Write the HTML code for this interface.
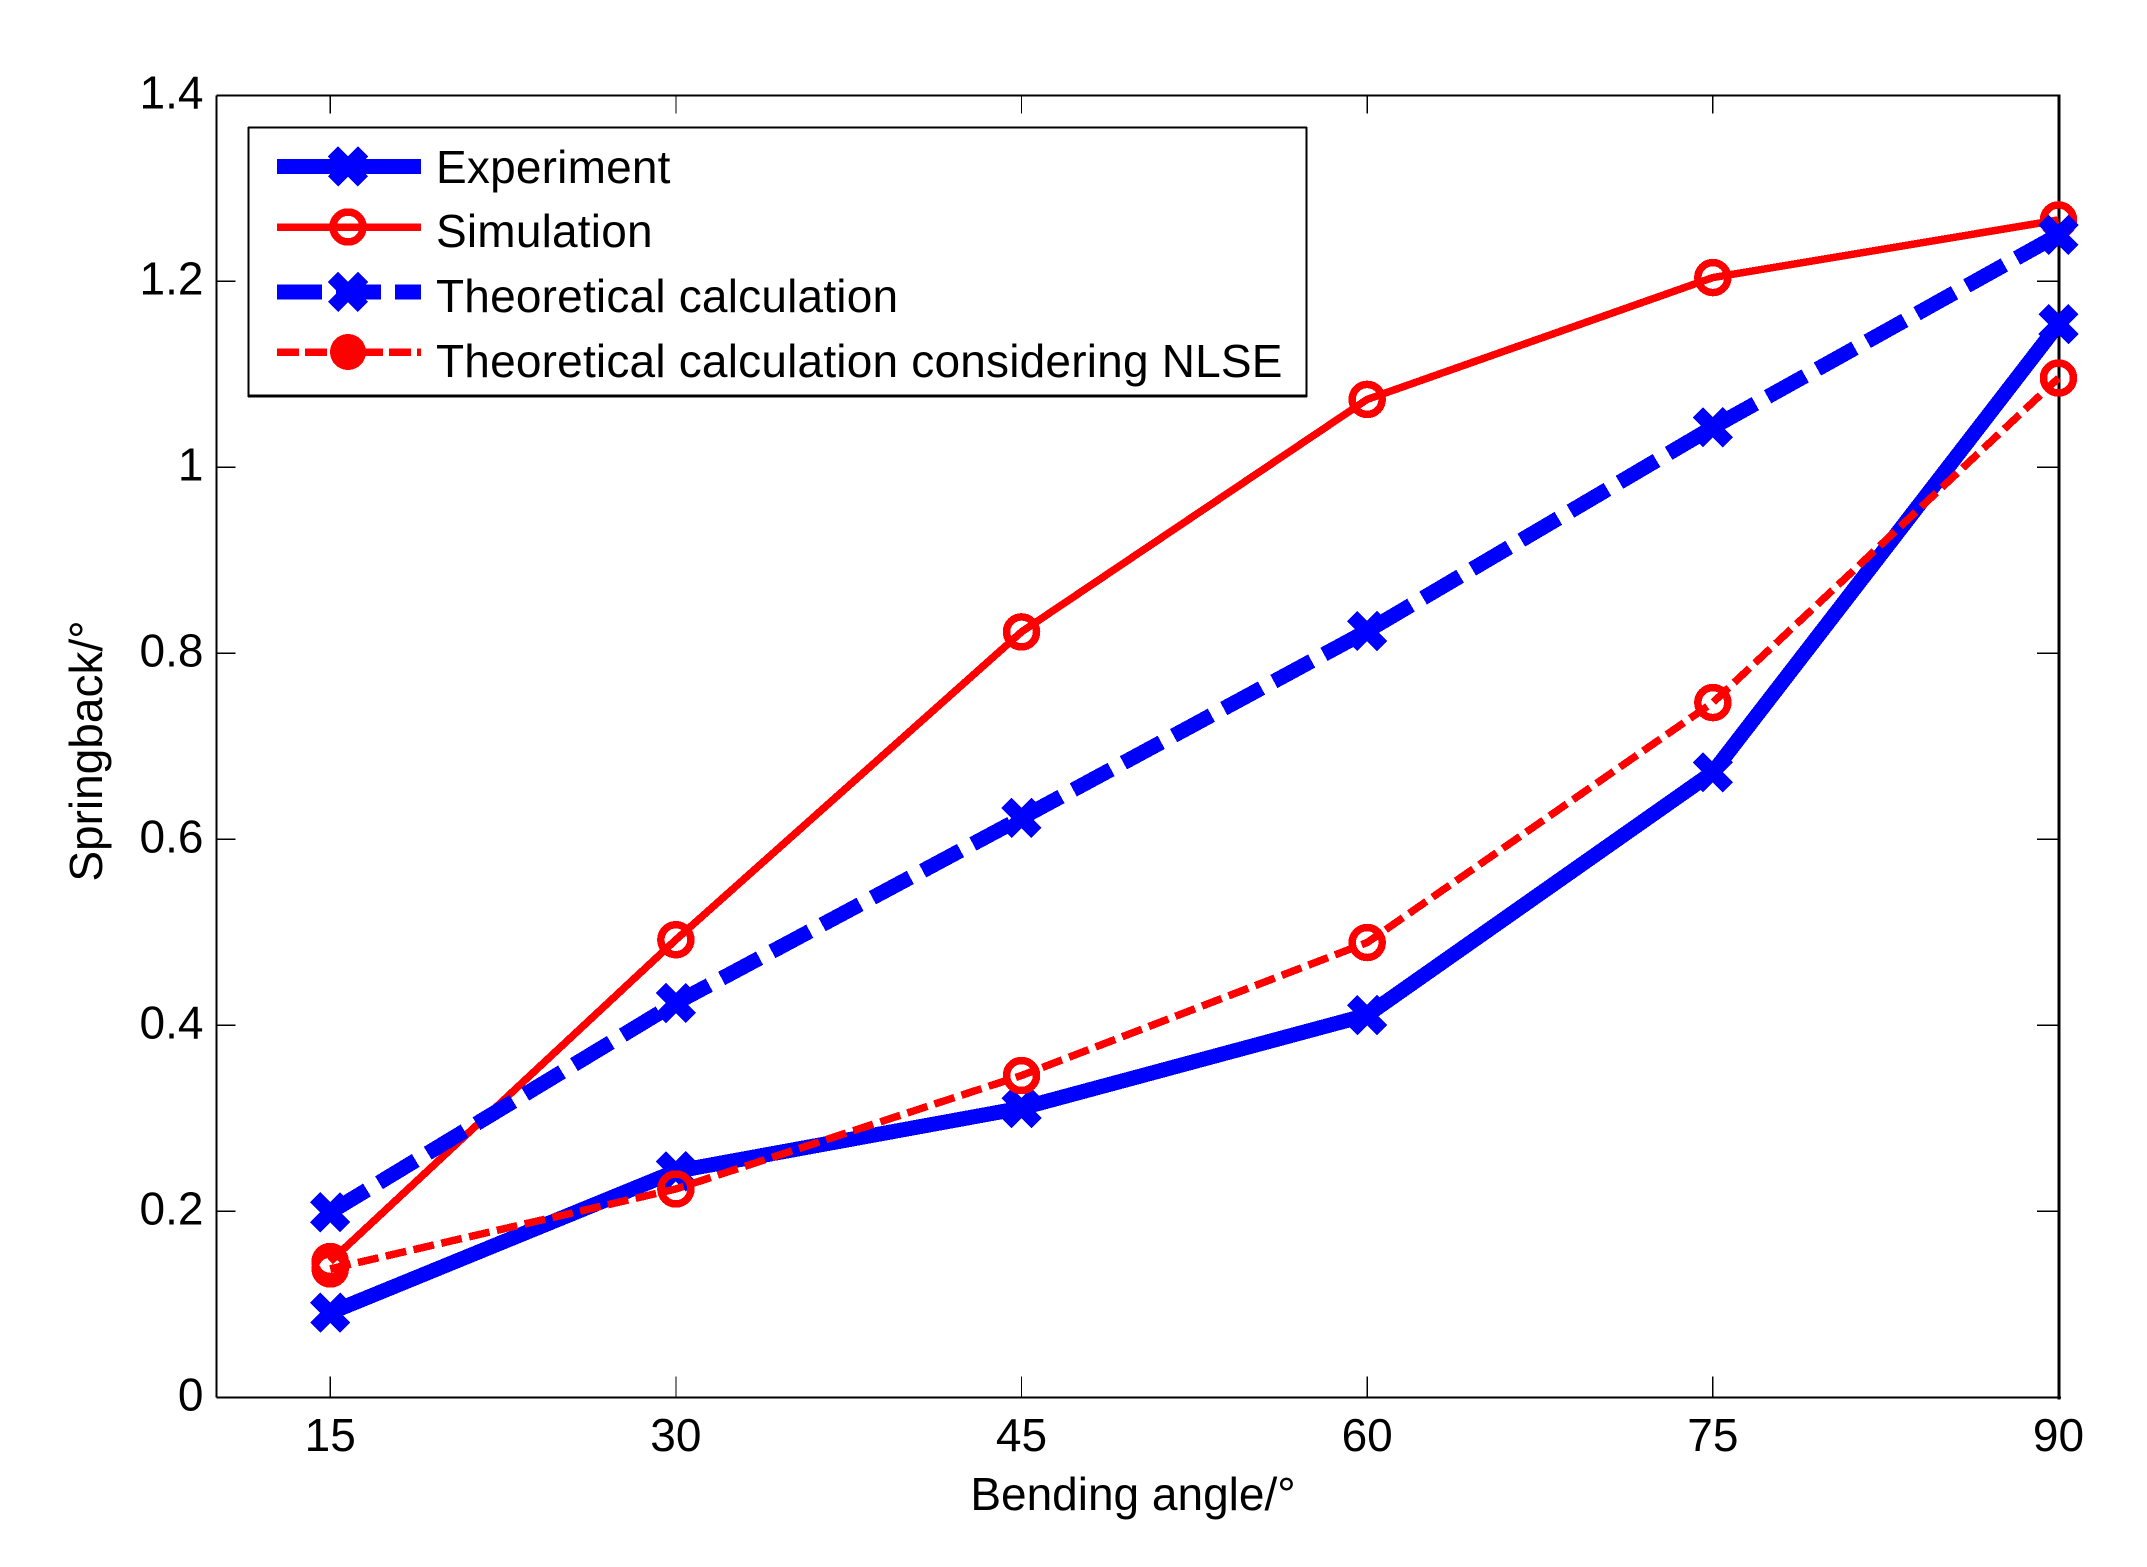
<!DOCTYPE html>
<html lang="en">
<head>
<meta charset="utf-8">
<title>Springback vs bending angle</title>
<style>
html,body{margin:0;padding:0;background:#fff;}
svg{display:block;shape-rendering:crispEdges;}
text{font-family:"Liberation Sans",Arial,sans-serif;font-size:46px;fill:#000;}
.legend-text{letter-spacing:0.2px;}
</style>
</head>
<body>
<svg id="chart" xmlns="http://www.w3.org/2000/svg" width="2147" height="1567" viewBox="0 0 2147 1567"></svg>
<script>
const categories = [15, 30, 45, 60, 75, 90];
const experimentValues = [0.091, 0.243, 0.311, 0.411, 0.672, 1.154];
const simulationValues = [0.146, 0.492, 0.823, 1.073, 1.204, 1.266];
const theoreticalValues = [0.199, 0.424, 0.623, 0.824, 1.043, 1.250];
const nlseValues = [0.138, 0.224, 0.346, 0.489, 0.747, 1.096];
const yTicks = [0, 0.2, 0.4, 0.6, 0.8, 1, 1.2, 1.4];
const xDomain = [15, 90];
const yDomain = [0, 1.4];
const xAxisTitle = "Bending angle/°";
const yAxisTitle = "Springback/°";

const seriesList = [
  {key:"experiment", label:"Experiment", values:experimentValues, color:"#0000ff", width:15, dash:"", marker:"x"},
  {key:"simulation", label:"Simulation", values:simulationValues, color:"#ff0000", width:7.5, dash:"", marker:"o"},
  {key:"theoretical", label:"Theoretical calculation", values:theoreticalValues, color:"#0000ff", width:15, dash:"43 14", marker:"x"},
  {key:"nlse", label:"Theoretical calculation considering NLSE", values:nlseValues, color:"#ff0000", width:7.5, dash:"21 7.5", marker:"o"}
];

const svg = document.getElementById("chart");
const NS = "http://www.w3.org/2000/svg";
const plot = {left:216.5, right:2059, top:95.3, bottom:1397.3, x0:330.2, x1:2058.5};
function xScale(v){ return plot.x0 + (v - xDomain[0]) / (xDomain[1] - xDomain[0]) * (plot.x1 - plot.x0); }
function yScale(v){ return plot.bottom - (v - yDomain[0]) / (yDomain[1] - yDomain[0]) * (plot.bottom - plot.top); }
function make(tag, attrs, parent){
  const n = document.createElementNS(NS, tag);
  for (const k in attrs) n.setAttribute(k, attrs[k]);
  (parent || svg).appendChild(n);
  return n;
}
function drawMarker(parent, s, cx, cy){
  const g = make("g", {}, parent);
  
  
  if (s.marker === "x") {
    make("line", {x1:cx-15, y1:cy-15, x2:cx+15, y2:cy+15, stroke:s.color, "stroke-width":14.5}, g);
    make("line", {x1:cx-15, y1:cy+15, x2:cx+15, y2:cy-15, stroke:s.color, "stroke-width":14.5}, g);
  } else {
    make("circle", {cx:cx, cy:cy, r:15, fill:"none", stroke:s.color, "stroke-width":7.5}, g);
  }
}

// axes box
const axesBox = make("g", {stroke:"#000", fill:"none"});


make("line", {x1:plot.left, y1:plot.top, x2:plot.right, y2:plot.top, "stroke-width":2}, axesBox);
make("line", {x1:plot.left, y1:plot.bottom, x2:plot.right+2, y2:plot.bottom, "stroke-width":2}, axesBox);
make("line", {x1:plot.left, y1:plot.top, x2:plot.left, y2:plot.bottom, "stroke-width":2}, axesBox);
make("line", {x1:plot.right, y1:plot.top-1, x2:plot.right, y2:plot.bottom+2, "stroke-width":3}, axesBox);

// x ticks
categories.forEach(function(c){
  const x = xScale(c);
  const tick = make("g", {stroke:"#000", "stroke-width":1.2});
  
  
  make("line", {x1:x, y1:plot.bottom, x2:x, y2:plot.bottom-21}, tick);
  make("line", {x1:x, y1:plot.top, x2:x, y2:plot.top+18}, tick);
  const label = make("text", {x:x, y:1451, "text-anchor":"middle"});
  
  
  label.textContent = String(c);
});

// y ticks
yTicks.forEach(function(t){
  const y = yScale(t);
  const tick = make("g", {stroke:"#000", "stroke-width":1.2});
  
  
  make("line", {x1:plot.left, y1:y, x2:plot.left+19, y2:y}, tick);
  make("line", {x1:plot.right, y1:y, x2:plot.right-22, y2:y}, tick);
  const label = make("text", {x:203.5, y:y+13, "text-anchor":"end"});
  
  
  label.textContent = String(t);
});

// axis titles
const xTitle = make("text", {x:1133, y:1510, "text-anchor":"middle"});


xTitle.textContent = xAxisTitle;
const yTitle = make("text", {x:0, y:0, "text-anchor":"middle", transform:"translate(102 751) rotate(-90)"});


yTitle.textContent = yAxisTitle;

// series
seriesList.forEach(function(s){
  const group = make("g", {});
  
  
  const pts = s.values.map(function(v, i){ return xScale(categories[i]) + "," + yScale(v); }).join(" ");
  const attrs = {points:pts, fill:"none", stroke:s.color, "stroke-width":s.width, "stroke-linejoin":"miter"};
  if (s.dash) attrs["stroke-dasharray"] = s.dash;
  const line = make("polyline", attrs, group);
  
  
  s.values.forEach(function(v, i){
    drawMarker(group, s, xScale(categories[i]), yScale(v));
  });
});

// legend
const legend = make("g", {});


make("rect", {x:248.5, y:127.5, width:1058, height:268, fill:"#fff", stroke:"none"}, legend);
make("line", {x1:248, y1:127.5, x2:1307, y2:127.5, stroke:"#000", "stroke-width":2}, legend);
make("line", {x1:248.5, y1:127, x2:248.5, y2:397, stroke:"#000", "stroke-width":1.6}, legend);
make("line", {x1:1306.5, y1:127, x2:1306.5, y2:397, stroke:"#000", "stroke-width":1.6}, legend);
make("line", {x1:248, y1:396, x2:1307, y2:396, stroke:"#000", "stroke-width":3}, legend);
const legendLineY = [166.3, 227, 292, 352];
const legendTextY = [183, 247, 312, 377];
seriesList.forEach(function(s, i){
  const entry = make("g", {}, legend);
  
  
  const sample = {x1:277, y1:legendLineY[i], x2:421, y2:legendLineY[i], stroke:s.color, "stroke-width":s.width};
  if (s.dash) sample["stroke-dasharray"] = s.key === "nlse" ? "22 6" : "45 14";
  make("line", sample, entry);
  if (s.key === "nlse") {
    make("circle", {cx:348, cy:legendLineY[i], r:18, fill:s.color}, entry);
  } else {
    drawMarker(entry, s, 348, legendLineY[i]);
  }
  const label = make("text", {x:436, y:legendTextY[i], "class":"legend-text"}, entry);
  
  
  label.textContent = s.label;
});
</script>
</body>
</html>
